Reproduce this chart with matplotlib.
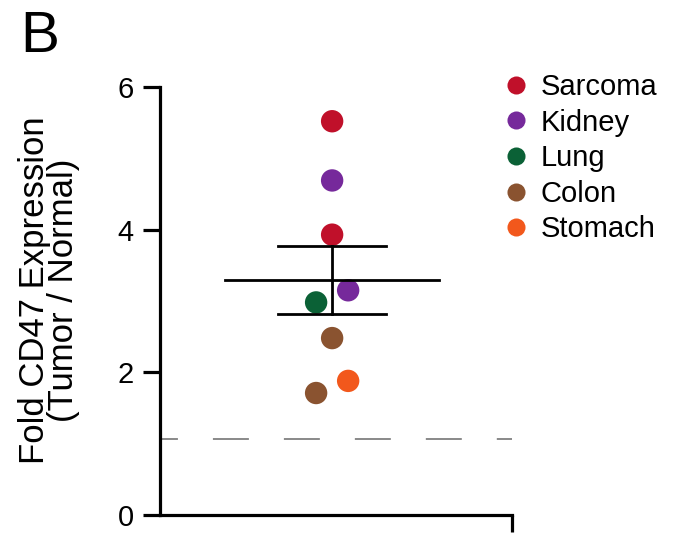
import matplotlib
matplotlib.use("Agg")
import matplotlib.pyplot as plt
from matplotlib.lines import Line2D
import numpy as np

plt.rcParams['font.family'] = ['Liberation Sans', 'DejaVu Sans']

# ---- data ----
tissues = ['Sarcoma', 'Kidney', 'Lung', 'Colon', 'Stomach']
tissue_colors = ['#C0102A', '#76299B', '#0B6136', '#8A5330', '#F2581C']
point_tissue = ['Sarcoma', 'Kidney', 'Sarcoma', 'Kidney', 'Lung', 'Colon', 'Stomach', 'Colon']
fold_values = [5.52, 4.69, 3.93, 3.15, 2.98, 2.48, 1.88, 1.71]
baseline = 1.06
yticks = [0, 2, 4, 6]

# ---- layout ----
center = 0.489
step = 0.0455
offsets = [0, 0, 0, 1, -1, 0, 1, -1]

fig = plt.figure(figsize=(6.73, 5.34), dpi=100)
ax = fig.add_axes([160/673, 1-515/534, 352/673, 428/534])

cmap = dict(zip(tissues, tissue_colors))
vals = np.array(fold_values)
xs = center + step*np.array(offsets)
ax.scatter(xs, vals, s=260, c=[cmap[t] for t in point_tissue], zorder=3,
           clip_on=False, linewidths=0)

mean = vals.mean()
sem = vals.std(ddof=1)/np.sqrt(len(vals))
ax.plot([center-0.304, center+0.304], [mean, mean], color='black', lw=2.0, zorder=4)
ax.plot([center-0.153, center+0.153], [mean+sem, mean+sem], color='black', lw=2.0, zorder=4)
ax.plot([center-0.153, center+0.153], [mean-sem, mean-sem], color='black', lw=2.0, zorder=4)
ax.plot([center, center], [mean-sem, mean+sem], color='black', lw=2.0, zorder=4)

lw_d = 1.3
ax.axhline(baseline, color='#808080', lw=lw_d,
           ls=(13/lw_d, (25.9/lw_d, 25.2/lw_d)), dash_capstyle='butt', zorder=1)

ax.set_xlim(0, 1)
ax.set_ylim(0, 6)
ax.set_yticks(yticks)
ax.set_yticklabels([str(t) for t in yticks], fontsize=21)
ax.set_xticks([1])
ax.set_xticklabels([''])
for s in ['top', 'right']:
    ax.spines[s].set_visible(False)
for s in ['left', 'bottom']:
    ax.spines[s].set_linewidth(2.3)
ax.tick_params(axis='both', length=12, width=2.3, direction='out', pad=7)

fig.text(49/673, 1-290/534, 'Fold CD47 Expression\n(Tumor / Normal)', fontsize=25,
         rotation=90, ha='center', va='center', multialignment='center',
         linespacing=0.85)

handles = [Line2D([], [], marker='o', ls='', color=c, markersize=13, markeredgewidth=0)
           for c in tissue_colors]
fig.legend(handles, tissues, loc='upper left', bbox_to_anchor=(507/673, 1-73/534),
           frameon=False, fontsize=21, handlelength=0.6, handletextpad=0.55,
           labelspacing=0.26, borderpad=0, borderaxespad=0)

fig.text(20/673, 1-10/534, 'B', fontsize=42, va='top', ha='left')

fig.savefig('out.png', dpi=100)
